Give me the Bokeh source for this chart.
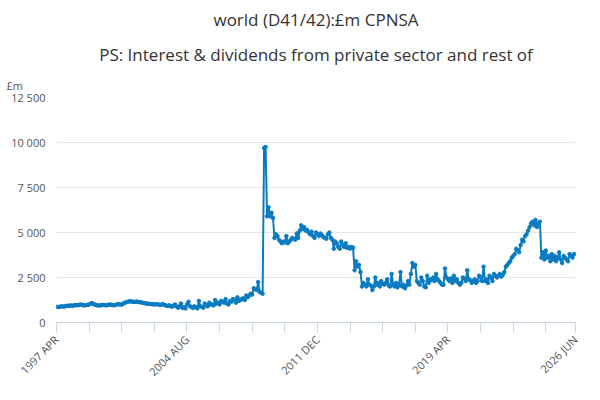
from bokeh.plotting import figure
from bokeh.models import FixedTicker, Legend, LegendItem, Title, CustomJSTickFormatter
from bokeh.embed import file_html
from bokeh.resources import INLINE

years = {
1997: [880,860,870,890,900,880,910,930,920],
1998: [940,950,920,960,970,950,980,990,1000,960,950,970],
1999: [980,1000,1050,1080,1020,990,960,950,940,960,980,970],
2000: [960,950,990,1000,980,970,960,990,1010,1020,1000,990],
2001: [1050,1100,1120,1150,1180,1170,1160,1150,1140,1160,1150,1130],
2002: [1120,1100,1080,1060,1050,1040,1030,1020,1010,1000,1020,1010],
2003: [990,980,1000,1020,960,940,920,960,900,880,950,1000],
2004: [880,820,900,1050,800,850,780,1000,1150,900,870,800],
2005: [900,850,780,1200,900,870,820,1050,950,900,1100,1000],
2006: [1000,950,1250,1050,1100,1000,1200,1150,1100,1300,1050,1000],
2007: [1200,1150,1300,1250,1100,1400,1200,1250,1300,1350,1250,1500],
2008: [1400,1500,1600,1550,1900,1850,1800,2250,1700,1650,1600,9700],
2009: [9750,5900,6400,5900,6100,5800,4700,4900,4800,4600,4500,4400],
2010: [4500,4450,4800,4400,4500,4600,4700,4650,4600,4950,4700,5100],
2011: [5400,5200,5300,5100,5150,5000,4900,5050,4800,4700,5000,4900],
2012: [4800,4950,4850,4750,4700,4650,4900,5000,4700,4600,4100,4500],
2013: [4400,4200,4100,4500,4300,4200,4400,4150,4200,4100,4200,4150],
2014: [2900,3400,3100,3200,2800,2000,2200,2100,2000,2400,2100,2050],
2015: [1800,2000,2500,2100,2200,2000,2300,2150,2100,2200,2400,2050],
2016: [2000,2700,2100,2000,2200,1950,2100,2800,2000,2100,1900,2050],
2017: [2300,2100,2700,3300,3100,3200,2300,2200,2100,2500,2300,2000],
2018: [1950,2600,2200,2400,2350,2500,2300,2700,2400,2300,2200,2100],
2019: [2100,3000,2500,2400,2300,2450,2200,2600,2300,2400,2200,2100],
2020: [2200,2500,2450,2300,2900,2400,2350,2200,2300,2400,2200,2300],
2021: [2600,2500,2300,3100,2300,2400,2200,2600,2500,2300,2700,2600],
2022: [2500,2600,2700,2550,2650,2800,3100,3200,3300,3400,3600,3700],
2023: [3800,4100,4000,3900,4300,4600,4500,4800,4900,5100,5300,5500],
2024: [5600,5400,5700,5300,5500,5600,3600,3900,3500,4000,3600,3700],
2025: [3400,3800,3500,3700,3400,3600,3900,3500,3300,3700,3600,3500],
2026: [3400,3800,3700,3600,3800,3800],
}
MONTHS = ["JAN","FEB","MAR","APR","MAY","JUN","JUL","AUG","SEP","OCT","NOV","DEC"]

labels, values = [], []
for y, vals in years.items():
    start = 3 if y == 1997 else 0
    for i, v in enumerate(vals):
        labels.append(f"{y} {MONTHS[start+i]}")
        values.append(v)
x = list(range(len(values)))
n = len(values)

p = figure(frame_width=519, frame_height=225, output_backend="svg", toolbar_location=None,
           x_range=(0, n-1), y_range=(0, 12500), min_border_left=56, min_border_right=8,
           min_border_top=0, min_border_bottom=0)
p.title.text = "world (D41/42):£m CPNSA"
tfont = dict(text_font="Open Sans", text_font_size="17px", text_font_style="normal", text_color="#333333")
for k, v in tfont.items():
    setattr(p.title, k, v)
p.title.align = "center"
p.add_layout(Title(text="£m", text_font="Open Sans", text_font_size="11px",
                   text_font_style="normal", text_color="#555555", offset=-50), "above")
p.add_layout(Title(text="PS: Interest & dividends from private sector and rest of",
                   align="center", **tfont), "above")

r = p.line(x, values, line_color="#0b7bc1", line_width=2)
p.scatter(x, values, size=3.5, color="#0b7bc1")

major = [0, 88, 176, 264, n-1]
p.xaxis.ticker = FixedTicker(ticks=major, minor_ticks=list(range(0, n, 22)) + [n-1])
p.xaxis.major_label_overrides = {t: labels[t] for t in major}
p.xaxis.major_label_orientation = 0.785
p.xaxis.major_label_text_font = "Open Sans"
p.xaxis.major_label_text_font_size = "11px"
p.xaxis.major_label_text_color = "#555555"
p.xaxis.axis_line_color = "#ccd6eb"
p.xaxis.major_tick_line_color = "#ccd6eb"
p.xaxis.minor_tick_line_color = "#ccd6eb"
p.xaxis.major_tick_out = 10
p.xaxis.minor_tick_out = 10
p.xaxis.major_tick_in = 0
p.xaxis.minor_tick_in = 0

p.yaxis.ticker = FixedTicker(ticks=[0, 2500, 5000, 7500, 10000, 12500])
p.yaxis.formatter = CustomJSTickFormatter(code="var s = String(tick); return s.length > 3 ? s.slice(0,-3) + ' ' + s.slice(-3) : s;")
p.yaxis.axis_line_color = None
p.yaxis.major_tick_line_color = None
p.yaxis.minor_tick_line_color = None
p.yaxis.major_label_text_font = "Open Sans"
p.yaxis.major_label_text_font_size = "11px"
p.yaxis.major_label_text_color = "#555555"

p.xgrid.grid_line_color = None
p.ygrid.grid_line_color = "#e6e6e6"
p.outline_line_color = None

leg = Legend(items=[LegendItem(label="PS: Interest & dividends from private sector and rest of world (D41/42):£m CPNSA", renderers=[r])],
             orientation="horizontal", border_line_color=None, background_fill_alpha=0,
             label_text_font="Open Sans", label_text_font_size="12px", label_text_font_style="bold",
             label_text_color="#333333", padding=0, margin=4, glyph_width=16)
p.add_layout(leg, "below")
p.add_layout(Title(text="Source:", align="right", text_font="Open Sans", text_font_size="12px",
                   text_font_style="normal", text_color="#555555"), "below")

open("out.html", "w").write(file_html(p, INLINE))
